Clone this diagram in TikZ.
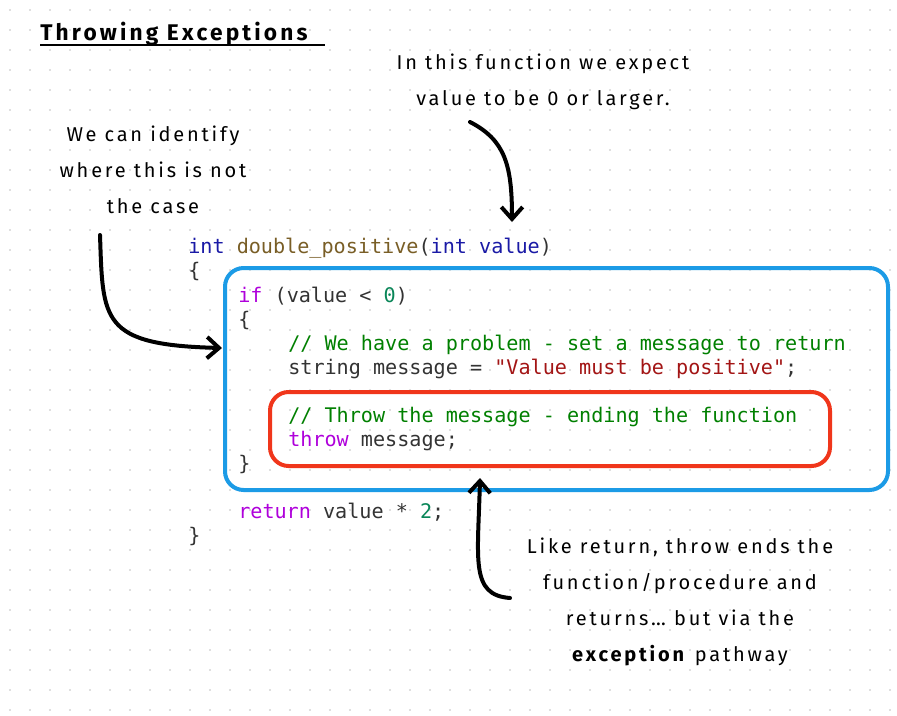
\documentclass[tikz,border=0pt]{standalone}
\usepackage{fontspec}
\setmainfont{Fira Sans}[LetterSpace=14]
\setmonofont{DejaVu Sans Mono}
\usetikzlibrary{arrows.meta}
\definecolor{kw}{HTML}{1A1AA6}
\definecolor{fn}{HTML}{795E26}
\definecolor{ct}{HTML}{AF00DB}
\definecolor{num}{HTML}{098658}
\definecolor{cm}{HTML}{008000}
\definecolor{str}{HTML}{A31515}
\definecolor{txt}{HTML}{333333}
\definecolor{bluebox}{HTML}{1C9BE6}
\definecolor{redbox}{HTML}{F0361B}
\tikzset{
  code/.style={anchor=base west,inner sep=0pt,font=\fontsize{15.1pt}{18pt}\ttfamily,text=txt},
  note/.style={align=center,inner sep=0pt,font=\fontsize{15pt}{27pt}\selectfont,text=black},
  hand/.style={line width=3pt,line cap=round,-{Straight Barb[length=9pt,width=16pt,line width=3pt]}},
}
\begin{document}
\begin{tikzpicture}[x=0.75pt,y=-0.75pt]
\useasboundingbox (0,0) rectangle (897,715);
\fill[white] (0,0) rectangle (897,715);
\foreach \i in {0,...,44}{\foreach \j in {0,...,35}{\fill[black!25] (10+\i*20,10+\j*20) circle (0.6pt);}}
\node[anchor=base west,inner sep=0pt,font=\fontsize{17pt}{20pt}\selectfont\bfseries] (title) at (40,40) {Throwing Exceptions};
\draw[line width=1.5pt] (40,45) -- (325,45);
\node[note] (t1) at (543,82) {In this function we expect\\value to be 0 or larger.};
\node[note] (t2) at (153,170) {We can identify\\where this is not\\the case};
\node[note] (t3) at (680,602) {Like return, throw ends the\\function/procedure and\\returns\dots{} but via the\\\textbf{exception} pathway};
\node[code] (l1) at (188,253) {\textcolor{kw}{int} \textcolor{fn}{double\_positive}(\textcolor{kw}{int} \textcolor{kw}{value})};
\node[code] (l2) at (188,277) {\{};
\node[code] (l3) at (238,302) {\textcolor{ct}{if} (value < \textcolor{num}{0})};
\node[code] (l4) at (238,326) {\{};
\node[code] (l5) at (288,350) {\textcolor{cm}{// We have a problem - set a message to return}};
\node[code] (l6) at (288,374) {string message = \textcolor{str}{"Value must be positive"};};
\node[code] (l7) at (288,422) {\textcolor{cm}{// Throw the message - ending the function}};
\node[code] (l8) at (288,446) {\textcolor{ct}{throw} message;};
\node[code] (l9) at (238,470) {\}};
\node[code] (l10) at (238,518) {\textcolor{ct}{return} value * \textcolor{num}{2};};
\node[code] (l11) at (188,542) {\}};
\draw[bluebox,line width=3pt,rounded corners=14pt] (225,268) rectangle (888,490);
\draw[redbox,line width=3pt,rounded corners=14pt] (270,392) rectangle (830,466);
\coordinate (a1s) at (470,122); \coordinate (a1e) at (512,222);
\coordinate (a2s) at (100,235); \coordinate (a2e) at (222,348);
\coordinate (a3s) at (510,598); \coordinate (a3e) at (480,478);
\draw[hand] (a1s) .. controls (505,140) and (512,165) .. (a1e);
\draw[hand] (a2s) .. controls (103,320) and (100,345) .. (a2e);
\draw[hand] (a3s) .. controls (470,595) and (478,560) .. (a3e);
\end{tikzpicture}
\end{document}
